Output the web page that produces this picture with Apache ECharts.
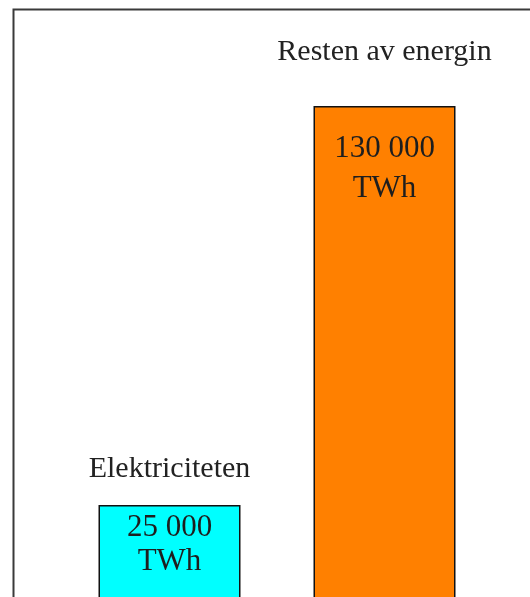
<!DOCTYPE html>
<html>
<head>
<meta charset="utf-8">
<script src="https://cdn.jsdelivr.net/npm/echarts@6/dist/echarts.min.js"></script>
<style>
html,body{margin:0;padding:0;background:#fff;}
#chart{width:530px;height:597px;}
</style>
</head>
<body>
<div id="chart"></div>
<script>
const categories = ['Elektriciteten', 'Resten av energin'];
const values = [25000, 130000];
const unit = 'TWh';
const barColors = ['#00FFFF', '#FF8000'];

// per-bar label styling (positions only, not data)
const nameDistance = [21, 39];
const valueDistance = [6, 23];
const valueLineHeight = [34, 40];

function fmt(v) {
  return String(v).replace(/\B(?=(\d{3})+(?!\d))/g, ' ');
}

const chart = echarts.init(document.getElementById('chart'), null, {renderer: 'canvas'});
const font = 'Liberation Serif, Times New Roman, serif';

chart.setOption({
  animation: false,
  backgroundColor: '#ffffff',
  grid: {left: 62, right: 38, top: 9, bottom: 0, containLabel: false},
  xAxis: {
    type: 'category',
    data: categories,
    axisLine: {show: false},
    axisTick: {show: false},
    axisLabel: {show: false}
  },
  yAxis: {
    type: 'value',
    min: 790,
    max: 155526,
    show: false,
    splitLine: {show: false}
  },
  graphic: [{
    type: 'polyline',
    shape: {points: [[13.5, 610], [13.5, 9.5], [545, 9.5]]},
    style: {stroke: '#3a3a3a', lineWidth: 2, fill: null},
    z: 10
  }],
  series: [
    {
      type: 'bar',
      barWidth: 142,
      clip: false,
      data: values.map((v, i) => ({
        value: v,
        itemStyle: {color: barColors[i], borderColor: '#111', borderWidth: 1.5},
        label: {distance: valueDistance[i], lineHeight: valueLineHeight[i]}
      })),
      label: {
        show: true,
        position: 'insideTop',
        fontFamily: font,
        fontSize: 31,
        color: '#1e1e1e',
        formatter: p => fmt(p.value) + '\n' + unit
      }
    },
    {
      type: 'bar',
      barWidth: 142,
      barGap: '-100%',
      silent: true,
      clip: false,
      data: values.map((v, i) => ({
        value: v,
        itemStyle: {color: 'rgba(0,0,0,0)'},
        label: {distance: nameDistance[i]}
      })),
      label: {
        show: true,
        position: 'top',
        fontFamily: font,
        fontSize: 30,
        color: '#222',
        formatter: p => p.name
      }
    }
  ]
});
</script>
</body>
</html>
